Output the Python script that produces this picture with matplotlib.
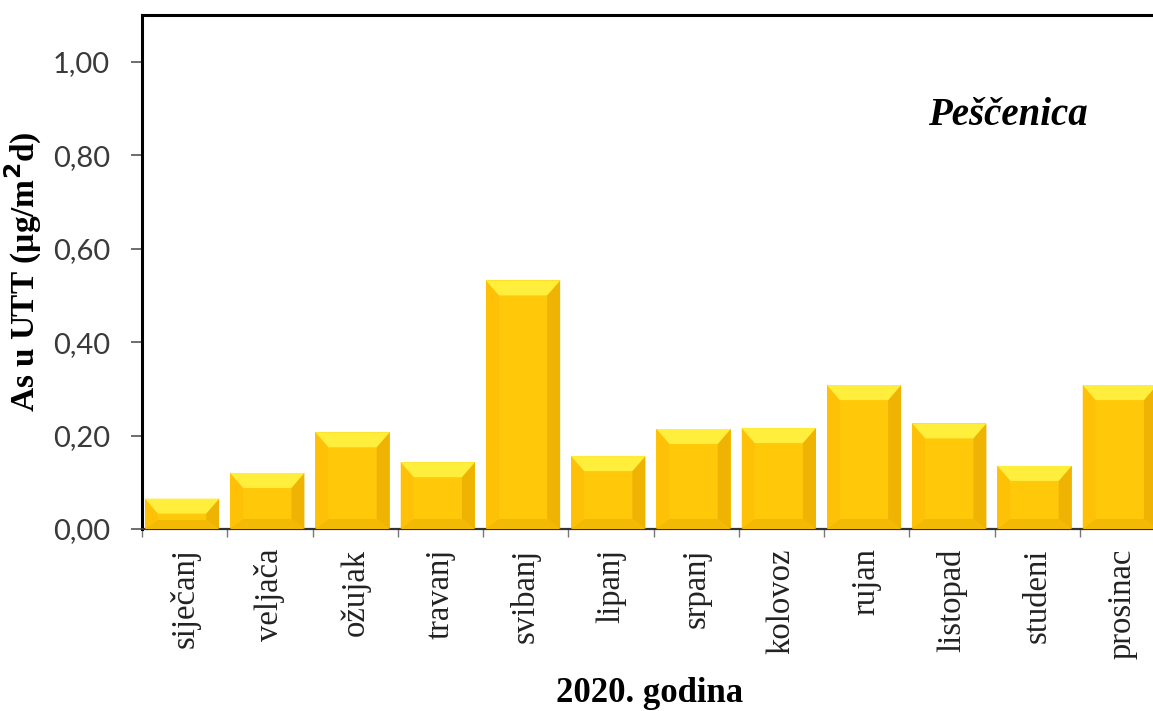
"""
As u UTT - Peščenica, 2020.
Stupčasti graf s efektom kosine (bevel) na stupcima
"""
import matplotlib
matplotlib.use('Agg')
import matplotlib.pyplot as plt
from matplotlib.patches import Polygon
from matplotlib.ticker import FuncFormatter, FixedLocator
from matplotlib.transforms import blended_transform_factory

# podaci
months = ['siječanj', 'veljača', 'ožujak', 'travanj', 'svibanj', 'lipanj',
          'srpanj', 'kolovoz', 'rujan', 'listopad', 'studeni', 'prosinac']
as_values = [0.065, 0.120, 0.207, 0.143, 0.532, 0.156,
             0.214, 0.216, 0.308, 0.226, 0.135, 0.308]
y_ticks = [0.0, 0.2, 0.4, 0.6, 0.8, 1.0]

W, H, DPI = 1153, 711, 100
fig = plt.figure(figsize=(W / DPI, H / DPI), dpi=DPI)

# os ide malo preko desnog ruba slike, kao na originalu
ax_l, ax_r, ax_b, ax_t = 142, 1165, 529, 15
ax = fig.add_axes([ax_l / W, (H - ax_b) / H, (ax_r - ax_l) / W, (ax_b - ax_t) / H])
ax.set_xlim(-0.5, len(months) - 0.5)
ax.set_ylim(0, 1.10)

face = '#FFC90A'
bars = ax.bar([i - 0.03 for i in range(len(months))], as_values, width=0.87,
              color=face, edgecolor='none', zorder=2)

# kosine u pikselima -> podatkovne jedinice
px_x = len(months) / (ax_r - ax_l)
px_y = 1.10 / (ax_b - ax_t)
bx, bt, bb = 13 * px_x, 15 * px_y, 10 * px_y

for b in bars:
    x0 = b.get_x()
    x1 = x0 + b.get_width()
    h = b.get_height()
    top = min(bt, h * 0.5)
    bot = min(bb, h * 0.3)
    # lijevo
    ax.add_patch(Polygon([(x0, 0), (x0 + bx, bot), (x0 + bx, h - top), (x0, h)],
                         closed=True, fc='#FFC107', ec='none', zorder=3))
    # desno
    ax.add_patch(Polygon([(x1, 0), (x1 - bx, bot), (x1 - bx, h - top), (x1, h)],
                         closed=True, fc='#EFB304', ec='none', zorder=3))
    # dolje
    ax.add_patch(Polygon([(x0, 0), (x1, 0), (x1 - bx, bot), (x0 + bx, bot)],
                         closed=True, fc='#F2B905', ec='none', zorder=3))
    # gore
    ax.add_patch(Polygon([(x0, h), (x1, h), (x1 - bx, h - top), (x0 + bx, h - top)],
                         closed=True, fc='#FFEE3C', ec='none', zorder=3))

# y os
ax.yaxis.set_major_locator(FixedLocator(y_ticks))
ax.yaxis.set_major_formatter(FuncFormatter(lambda v, p: f'{v:.2f}'.replace('.', ',')))
ax.tick_params(axis='y', direction='out', length=8, width=1.2, color='#555555',
               labelsize=21, labelcolor='#3a3a3a', pad=15)
for lab in ax.get_yticklabels():
    lab.set_family(['Lato', 'DejaVu Sans'])

# x os: oznake između mjeseci
ax.set_xticks(range(len(months)))
ax.set_xticklabels(months, rotation=90, fontsize=23.5, family='Liberation Serif',
                   color='#222222')
ax.tick_params(axis='x', which='major', length=0, pad=14)
ax.set_xticks([i - 0.5 for i in range(len(months) + 1)], minor=True)
ax.tick_params(axis='x', which='minor', direction='out', length=6, width=1,
               color='#777777')

for s in ['left', 'top', 'right']:
    ax.spines[s].set_linewidth(2.2)
    ax.spines[s].set_color('black')
ax.spines['bottom'].set_linewidth(1.6)
ax.spines['bottom'].set_color('#333333')

ax.set_ylabel('As u UTT (µg/m$^\\mathbf{2}$d)', fontsize=24, fontweight='bold',
              family='Liberation Serif')
ax.yaxis.set_label_coords((44 - ax_l) / (ax_r - ax_l), 0.5)
fig.text(650 / W, 1 - 693 / H, '2020. godina', ha='center', va='center',
         fontsize=25, fontweight='bold', family='Liberation Serif')
ax.text(1008 / W, 0.885, 'Peščenica', ha='center', va='center',
        transform=blended_transform_factory(fig.transFigure, ax.transData),
        fontsize=28, fontweight='bold', style='italic', family='Liberation Serif')

fig.savefig('out.png', dpi=DPI)
plt.close(fig)
